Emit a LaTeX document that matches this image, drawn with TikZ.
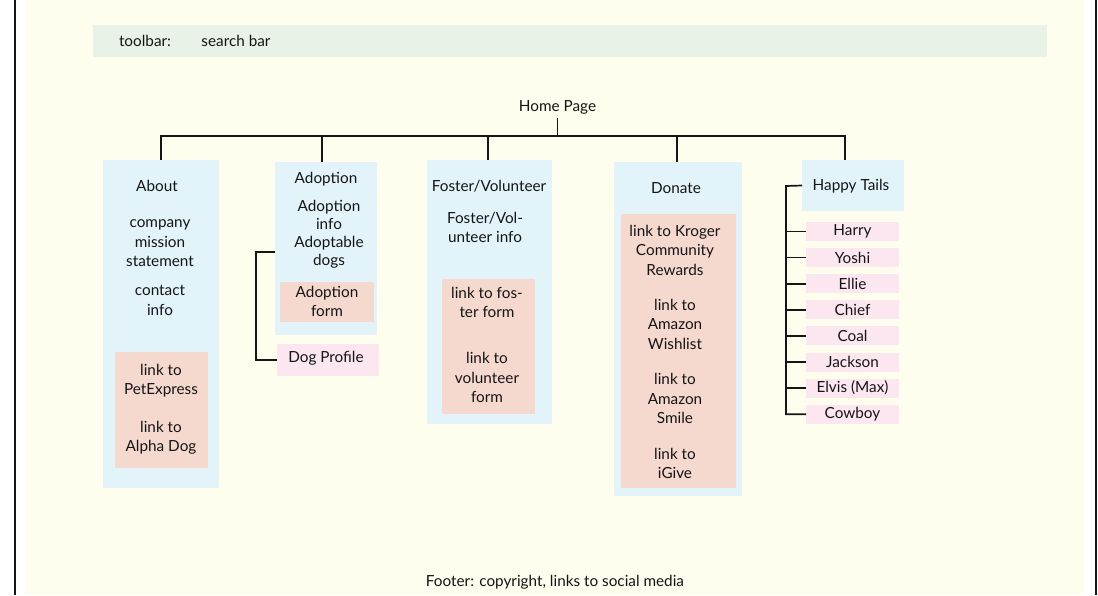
\documentclass[tikz,border=0pt]{standalone}
\usepackage{fontspec}
\setmainfont{Lato}
\usetikzlibrary{calc}
\definecolor{cream}{HTML}{FFFDEE}
\definecolor{tbar}{HTML}{E8F2E7}
\definecolor{pblue}{HTML}{E2F3FA}
\definecolor{porange}{HTML}{F5D9CE}
\definecolor{ppink}{HTML}{FCE6F0}
\definecolor{ink}{HTML}{151515}
\begin{document}
\begin{tikzpicture}[x=1pt,y=-1pt,
  every node/.style={text=ink},
  font=\fontsize{15.3}{19.5}\selectfont,
  panel/.style={fill=#1, draw=none, inner sep=0pt, outer sep=0pt},
  txt/.style={align=center, inner sep=0pt},
  link/.style={draw=ink, line width=1.7pt}]
\useasboundingbox (0,0) rectangle (1098,595);
\fill[white] (0,0) rectangle (1098,595);
\fill[cream] (25,0) rectangle (1084,595);
\draw[ink, line width=1.8pt] (15,0) -- (15,595);
\draw[ink, line width=1.8pt] (1096,0) -- (1096,595);

% toolbar
\node[panel=tbar, minimum width=954pt, minimum height=32pt] (toolbar) at (570,41) {};
\node[txt] (tbl) at (145,41) {toolbar:};
\node[txt] (tbs) at (236,41) {search bar};

% home
\node[txt, inner sep=4pt] (home) at (557.5,107) {Home Page};
\coordinate (bus) at (557.5,136);

% About
\node[panel=pblue, minimum width=116pt, minimum height=328pt] (about) at (161,324) {};
\node[txt] (aboutT) at (157,186) {About};
\node[txt] (aboutM) at (160,243.5) {company\\mission\\statement};
\node[txt] (aboutC) at (160,300.5) {contact\\info};
\node[panel=porange, minimum width=93pt, minimum height=116pt] (aboutL) at (161.5,410) {};
\node[txt] (aboutL1) at (161,380.5) {link to\\PetExpress};
\node[txt] (aboutL2) at (161,438) {link to\\Alpha Dog};

% Adoption
\node[panel=pblue, minimum width=102pt, minimum height=173pt] (adopt) at (326,248.5) {};
\node[txt] (adoptT) at (326,179) {Adoption};
\node[txt, font=\fontsize{15.3}{18}\selectfont] (adoptI) at (329,234) {Adoption\\info\\Adoptable\\dogs};
\node[panel=porange, minimum width=94pt, minimum height=40pt] (adoptF) at (327,302) {};
\node[txt] (adoptFT) at (327,301.5) {Adoption\\form};
\node[panel=ppink, minimum width=102pt, minimum height=32pt] (dogprof) at (328,360) {};
\node[txt] (dogprofT) at (326,358) {Dog Profile};

% Foster
\node[panel=pblue, minimum width=125pt, minimum height=264pt] (foster) at (489.5,292) {};
\node[txt] (fosterT) at (489,186) {Foster/Volunteer};
\node[txt] (fosterI) at (485,227.5) {Foster/Vol-\\unteer info};
\node[panel=porange, minimum width=93pt, minimum height=135pt] (fosterL) at (488.5,346.5) {};
\node[txt] (fosterL1) at (487,302.5) {link to fos-\\ter form};
\node[txt] (fosterL2) at (487,377.5) {link to\\volunteer\\form};

% Donate
\node[panel=pblue, minimum width=128pt, minimum height=334pt] (donate) at (678,329) {};
\node[txt] (donateT) at (676,188) {Donate};
\node[panel=porange, minimum width=115pt, minimum height=274pt] (donateL) at (678.5,351) {};
\node[txt] (donL1) at (675,250) {link to Kroger\\Community\\Rewards};
\node[txt] (donL2) at (675,324) {link to\\Amazon\\Wishlist};
\node[txt] (donL3) at (675,398.5) {link to\\Amazon\\Smile};
\node[txt] (donL4) at (675,463.5) {link to\\iGive};

% Happy Tails
\node[panel=pblue, minimum width=102pt, minimum height=51pt] (happy) at (853,185.5) {};
\node[txt] (happyT) at (851,186) {Happy Tails};
\foreach \n/\lab [count=\i from 0] in {harry/Harry,yoshi/Yoshi,ellie/Ellie,chief/Chief,coal/Coal,jackson/Jackson,elvis/Elvis (Max),cowboy/Cowboy}{
  \node[panel=ppink, minimum width=93pt, minimum height=19pt] (\n) at (852.5,231.5+26.1*\i) {};
  \node[txt] (\n T) at (852.5,231.5+26.1*\i) {\lab};
}
\coordinate (spine) at (786,186);

% footer
\node[txt] (footer) at (555,582) {Footer: copyright, links to social media};

% connectors
\draw[link] (home.south) -- (bus);
\draw[link] (bus) -| (about.north);
\draw[link] (bus) -| ([xshift=-4pt]adopt.north);
\draw[link] (bus) -| ([xshift=-1.5pt]foster.north);
\draw[link] (bus) -| ([xshift=-1pt]donate.north);
\draw[link] (bus) -| ([xshift=-8pt]happy.north);
\draw[link] ([yshift=-3.5pt]adopt.west) -- ++(-19,0) |- (dogprof.west);
\draw[link] (happy.west) -- (spine) |- (cowboy.west);
\foreach \n in {harry,yoshi,ellie,chief,coal,jackson,elvis}{
  \draw[link] (spine |- \n.west) -- (\n.west);
}
\end{tikzpicture}
\end{document}
